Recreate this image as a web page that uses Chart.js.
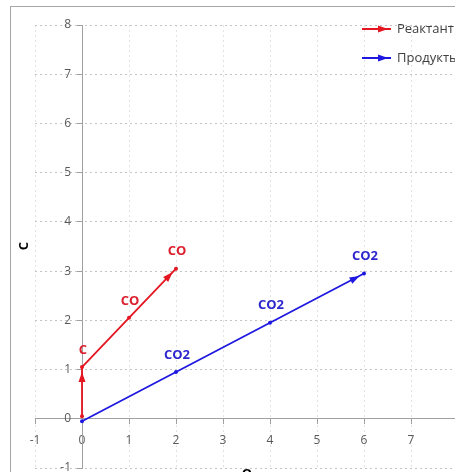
<!DOCTYPE html>
<html>
<head>
<meta charset="utf-8">
<script src="https://cdn.jsdelivr.net/npm/chart.js@4.4.0/dist/chart.umd.min.js"></script>
<style>
  html, body { margin: 0; padding: 0; background: #fff; overflow: hidden; }
  #wrap  { position: relative; width: 455px; height: 472px; overflow: hidden; background: #fff; }
  #frame { position: absolute; left: 10px; top: 6px; width: 600px; height: 600px;
           border: 1px solid #a6a6a6; box-sizing: border-box; }
  #chart { position: absolute; left: 0; top: 0; }
</style>
</head>
<body>
<div id="wrap">
  <div id="frame"></div>
  <canvas id="chart" width="490" height="472"></canvas>
</div>
<script>
// ── Data ─────────────────────────────────────────────────────
const seriesNames   = ['Реактант', 'Продукты'];
const reactX        = [0, 0, 1, 2];
const reactY        = [0.05, 1.05, 2.05, 3.05];
const reactLabels   = ['', 'C', 'CO', 'CO'];
const prodX         = [0, 2, 4, 6];
const prodY         = [-0.05, 0.95, 1.95, 2.95];
const prodLabels    = ['', 'CO2', 'CO2', 'CO2'];
// index of the point each arrow head points to
const reactArrows   = [1, 3];
const prodArrows    = [3];
const xTicks        = [-1, 0, 1, 2, 3, 4, 5, 6, 7, 8];
const yTicks        = [-1, 0, 1, 2, 3, 4, 5, 6, 7, 8];
const xTitle        = 'O';
const yTitle        = 'C';

const RED  = 'rgb(228, 22, 34)';
const BLUE = 'rgb(30, 24, 225)';
const TICK_FONT = '12px "Open Sans"';

const toPts = (xs, ys) => xs.map((x, i) => ({ x, y: ys[i] }));

// ── Arrow heads, point labels, legend, axis titles ───────────
function arrowHead(ctx, x, y, ang, color) {
  const len = 10, half = 3.5;
  ctx.save();
  ctx.translate(x, y);
  ctx.rotate(ang);
  ctx.fillStyle = color;
  ctx.beginPath();
  ctx.moveTo(0, 0);
  ctx.lineTo(-len, -half);
  ctx.lineTo(-len, half);
  ctx.closePath();
  ctx.fill();
  ctx.restore();
}

const overlay = {
  id: 'overlay',
  afterDatasetsDraw(chart) {
    const ctx = chart.ctx, xs = chart.scales.x, ys = chart.scales.y;
    chart.data.datasets.forEach(ds => {
      ds.arrows.forEach(i => {
        const a = ds.data[i - 1], b = ds.data[i];
        const x1 = xs.getPixelForValue(a.x), y1 = ys.getPixelForValue(a.y);
        const x2 = xs.getPixelForValue(b.x), y2 = ys.getPixelForValue(b.y);
        const ang = Math.atan2(y2 - y1, x2 - x1);
        arrowHead(ctx, x2 - Math.cos(ang) * 5, y2 - Math.sin(ang) * 5, ang, ds.borderColor);
      });
      ctx.save();
      ctx.font = 'bold 13px "Open Sans"';
      ctx.fillStyle = ds.labelColor;
      ctx.textAlign = 'center';
      ctx.textBaseline = 'middle';
      ds.data.forEach((p, i) => {
        if (!ds.pointLabels[i]) return;
        ctx.fillText(ds.pointLabels[i], xs.getPixelForValue(p.x) + 1, ys.getPixelForValue(p.y) - 17);
      });
      ctx.restore();
    });
  },
  afterDraw(chart) {
    const ctx = chart.ctx, xs = chart.scales.x, ys = chart.scales.y;
    // y tick labels, left of the y axis that crosses at x = 0
    const axisX = xs.getPixelForValue(0);
    ctx.save();
    ctx.font = TICK_FONT;
    ctx.fillStyle = '#595959';
    ctx.textAlign = 'right';
    ctx.textBaseline = 'middle';
    ys.ticks.forEach(t => ctx.fillText(String(t.value), axisX - 11, ys.getPixelForValue(t.value)));
    ctx.restore();
    // legend
    chart.data.datasets.forEach((ds, i) => {
      const y = 29 + i * 29;
      ctx.save();
      ctx.strokeStyle = ds.borderColor;
      ctx.lineWidth = 2;
      ctx.beginPath();
      ctx.moveTo(362, y);
      ctx.lineTo(391, y);
      ctx.stroke();
      arrowHead(ctx, 388, y, 0, ds.borderColor);
      ctx.font = '13px "Open Sans"';
      ctx.fillStyle = '#404040';
      ctx.textBaseline = 'middle';
      ctx.fillText(ds.label, 397, y);
      ctx.restore();
    });
    // axis titles
    ctx.save();
    ctx.font = 'bold 13px "Open Sans"';
    ctx.fillStyle = '#000';
    ctx.textAlign = 'center';
    ctx.textBaseline = 'middle';
    ctx.fillText(xTitle, 247, 474);
    ctx.translate(24, 246);
    ctx.rotate(-Math.PI / 2);
    ctx.fillText(yTitle, 0, 0);
    ctx.restore();
  }
};

// ── Chart ────────────────────────────────────────────────────
new Chart(document.getElementById('chart'), {
  type: 'scatter',
  data: {
    datasets: [
      {
        label: seriesNames[0],
        data: toPts(reactX, reactY),
        pointLabels: reactLabels,
        arrows: reactArrows,
        borderColor: RED,
        backgroundColor: RED,
        labelColor: 'rgb(220, 30, 45)',
        showLine: true,
        borderWidth: 1.8,
        pointRadius: 2,
        pointBorderWidth: 0,
      },
      {
        label: seriesNames[1],
        data: toPts(prodX, prodY),
        pointLabels: prodLabels,
        arrows: prodArrows,
        borderColor: BLUE,
        backgroundColor: BLUE,
        labelColor: 'rgb(45, 40, 205)',
        showLine: true,
        borderWidth: 1.8,
        pointRadius: 2,
        pointBorderWidth: 0,
      }
    ]
  },
  options: {
    responsive: false,
    animation: false,
    devicePixelRatio: 1,
    layout: { padding: { left: 35, right: 32, top: 25, bottom: -2 } },
    plugins: { legend: { display: false }, tooltip: { enabled: false } },
    scales: {
      x: {
        type: 'linear',
        position: { y: 0 },
        min: xTicks[0],
        max: xTicks[xTicks.length - 1],
        afterBuildTicks: s => { s.ticks = xTicks.map(v => ({ value: v })); },
        border: { color: '#a0a0a0', width: 1, dash: [2, 3] },
        grid: { color: '#e2e2e2', tickLength: 5, tickColor: '#a0a0a0', tickBorderDash: [] },
        ticks: { color: '#595959', font: { family: 'Open Sans', size: 12 }, padding: 10 }
      },
      y: {
        type: 'linear',
        position: { x: 0 },
        min: yTicks[0],
        max: yTicks[yTicks.length - 1],
        afterBuildTicks: s => { s.ticks = yTicks.map(v => ({ value: v })); },
        border: { color: '#a0a0a0', width: 1, dash: [2, 3] },
        grid: { color: '#c4c4c4', tickLength: 5, tickColor: '#a0a0a0', tickBorderDash: [] },
        ticks: { display: false }
      }
    }
  },
  plugins: [overlay]
});
</script>
</body>
</html>
